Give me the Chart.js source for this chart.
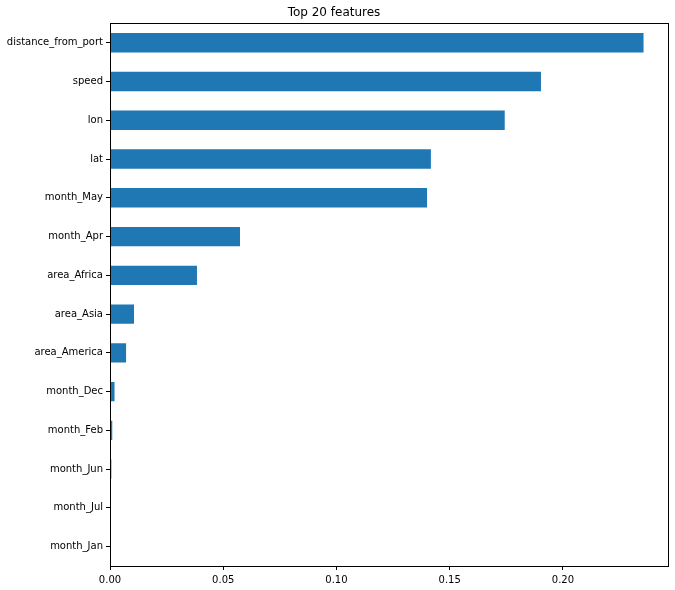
<!DOCTYPE html>
<html>
<head>
<meta charset="utf-8">
<script src="https://cdn.jsdelivr.net/npm/chart.js@4"></script>
<style>
  html, body { margin: 0; padding: 0; background: #fff; }
  #wrap { width: 675px; height: 590px; }
</style>
</head>
<body>
<div id="wrap"><canvas id="chart" width="675" height="590"></canvas></div>
<script>
const features = [
    'distance_from_port', 'speed', 'lon', 'lat', 'month_May', 'month_Apr',
    'area_Africa', 'area_Asia', 'area_America', 'month_Dec', 'month_Feb',
    'month_Jun', 'month_Jul', 'month_Jan'
]
const importance = [
    0.2356, 0.1903, 0.1743, 0.1417, 0.1400, 0.0574,
    0.0384, 0.0106, 0.0071, 0.0020, 0.0010,
    0.0006, 0.0001, 0.0000
]
const xTicks = [0, 0.05, 0.10, 0.15, 0.20]

const frame = {
    id: 'frame',
    afterDraw(chart) {
        const { ctx, chartArea: a } = chart
        ctx.save()
        ctx.strokeStyle = '#000'
        ctx.lineWidth = 1
        ctx.strokeRect(Math.round(a.left) + 0.5, Math.round(a.top) + 0.5,
            Math.round(a.right - a.left), Math.round(a.bottom - a.top))
        ctx.restore()
    }
}

Chart.defaults.font.family = '"DejaVu Sans", sans-serif'
Chart.defaults.font.size = 10
Chart.defaults.color = '#000'

new Chart(document.getElementById('chart'), {
    type: 'bar',
    data: {
        labels: features,
        datasets: [{
            data: importance,
            backgroundColor: '#1f77b4',
            barPercentage: 0.5,
            categoryPercentage: 1.0
        }]
    },
    options: {
        indexAxis: 'y',
        responsive: false,
        animation: false,
        layout: { padding: { left: 0, right: 7, top: 0, bottom: 0 } },
        plugins: {
            legend: { display: false },
            tooltip: { enabled: false },
            title: {
                display: true,
                text: 'Top 20 features',
                font: { size: 12, weight: 'normal' },
                color: '#000',
                padding: { top: 6, bottom: 3 }
            }
        },
        scales: {
            x: {
                min: 0,
                max: 0.2464,
                afterBuildTicks: axis => { axis.ticks = xTicks.map(v => ({ value: v })) },
                ticks: {
                    callback: v => v.toFixed(2),
                    maxRotation: 0,
                    padding: 4
                },
                grid: { drawOnChartArea: false, drawTicks: true, tickLength: 4, color: '#000' },
                border: { display: false },
                afterFit: axis => { axis.height = 24 }
            },
            y: {
                ticks: { padding: 3 },
                grid: { drawOnChartArea: false, drawTicks: true, tickLength: 4, color: '#000', offset: false },
                border: { display: false },
                afterFit: axis => { axis.width = 110 }
            }
        }
    },
    plugins: [frame]
})
</script>
</body>
</html>
